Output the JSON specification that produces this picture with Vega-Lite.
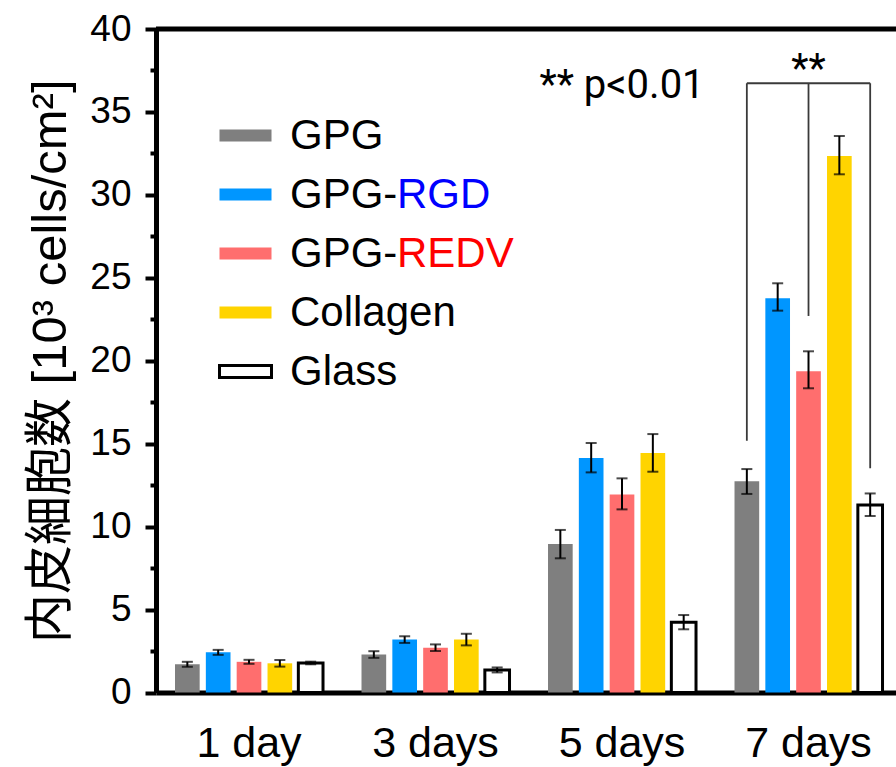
{
  "$schema": "https://vega.github.io/schema/vega-lite/v6.json",
  "autosize": "none",
  "width": 740,
  "height": 663.5,
  "padding": {"left": 156, "top": 29, "right": 0, "bottom": 74.5},
  "background": "white",
  "config": {"view": {"stroke": null}, "font": "Liberation Sans"},
  "datasets": {
    "bars": [
      {"day": "1 day", "group": "GPG", "mean": 1.7, "lo": 1.55, "hi": 1.85},
      {"day": "1 day", "group": "GPG-RGD", "mean": 2.42, "lo": 2.27, "hi": 2.57},
      {"day": "1 day", "group": "GPG-REDV", "mean": 1.85, "lo": 1.73, "hi": 1.97},
      {"day": "1 day", "group": "Collagen", "mean": 1.76, "lo": 1.56, "hi": 1.96},
      {"day": "1 day", "group": "Glass", "mean": 1.78, "lo": 1.7, "hi": 1.86},
      {"day": "3 days", "group": "GPG", "mean": 2.29, "lo": 2.09, "hi": 2.49},
      {"day": "3 days", "group": "GPG-RGD", "mean": 3.19, "lo": 2.99, "hi": 3.39},
      {"day": "3 days", "group": "GPG-REDV", "mean": 2.7, "lo": 2.5, "hi": 2.9},
      {"day": "3 days", "group": "Collagen", "mean": 3.19, "lo": 2.84, "hi": 3.54},
      {"day": "3 days", "group": "Glass", "mean": 1.36, "lo": 1.21, "hi": 1.51},
      {"day": "5 days", "group": "GPG", "mean": 8.95, "lo": 8.09, "hi": 9.8},
      {"day": "5 days", "group": "GPG-RGD", "mean": 14.14, "lo": 13.27, "hi": 15.04},
      {"day": "5 days", "group": "GPG-REDV", "mean": 11.93, "lo": 11.04, "hi": 12.91},
      {"day": "5 days", "group": "Collagen", "mean": 14.44, "lo": 13.31, "hi": 15.58},
      {"day": "5 days", "group": "Glass", "mean": 4.24, "lo": 3.81, "hi": 4.67},
      {"day": "7 days", "group": "GPG", "mean": 12.73, "lo": 11.97, "hi": 13.47},
      {"day": "7 days", "group": "GPG-RGD", "mean": 23.77, "lo": 23.02, "hi": 24.67},
      {"day": "7 days", "group": "GPG-REDV", "mean": 19.36, "lo": 18.34, "hi": 20.57},
      {"day": "7 days", "group": "Collagen", "mean": 32.34, "lo": 31.24, "hi": 33.55},
      {"day": "7 days", "group": "Glass", "mean": 11.3, "lo": 10.64, "hi": 12.0}
    ],
    "bracket": [
      {"day": "7 days", "group": "GPG", "y1": 15.18, "y2": 36.73},
      {"day": "7 days", "group": "GPG-REDV", "y1": 22.7, "y2": 36.73},
      {"day": "7 days", "group": "Glass", "y1": 13.52, "y2": 36.73}
    ],
    "bracketTop": [
      {"day": "7 days", "group": "GPG", "y": 36.73},
      {"day": "7 days", "group": "Glass", "y": 36.73}
    ]
  },
  "layer": [
    {
      "data": {"name": "bars"},
      "mark": {"type": "bar", "strokeWidth": 3},
      "encoding": {
        "x": {
          "field": "day", "type": "nominal", "title": null,
          "scale": {"domain": ["1 day", "3 days", "5 days", "7 days"], "paddingInner": 0.2064, "paddingOuter": 0.0871, "align": 0.585},
          "axis": {"ticks": false, "tickSize": 0, "labelFontSize": 43, "labelFont": "Liberation Sans", "labelColor": "black", "labelPadding": 30, "domainColor": "black", "domainWidth": 5, "labelAngle": 0, "title": null}
        },
        "xOffset": {
          "field": "group", "type": "nominal",
          "scale": {"domain": ["GPG", "GPG-RGD", "GPG-REDV", "Collagen", "Glass"], "paddingInner": 0.2, "paddingOuter": 0}
        },
        "y": {
          "field": "mean", "type": "quantitative",
          "scale": {"domain": [0, 40], "nice": false, "zero": true},
          "axis": {
            "values": [0, 2.5, 5, 7.5, 10, 12.5, 15, 17.5, 20, 22.5, 25, 27.5, 30, 32.5, 35, 37.5, 40],
            "labelExpr": "datum.value % 5 === 0 ? datum.label : ''",
            "tickSize": {"condition": {"test": "datum.value % 5 !== 0", "value": 6}, "value": 11},
            "tickWidth": 4, "tickColor": "black", "domainColor": "black", "domainWidth": 5,
            "labelFontSize": 37, "labelColor": "black", "labelFont": "Liberation Sans", "labelPadding": 14,
            "labelOverlap": false, "labelFlush": false, "grid": false,
            "title": "内皮細胞数 [10³ cells/cm²]", "titleFontSize": 49, "titleFont": "Liberation Sans, Noto Sans CJK JP",
            "titleFontWeight": "normal", "titleColor": "black", "titlePadding": 14
          }
        },
        "fill": {
          "field": "group", "type": "nominal",
          "scale": {"domain": ["GPG", "GPG-RGD", "GPG-REDV", "Collagen", "Glass"], "range": ["#7F7F7F", "#0096FF", "#FF6E6E", "#FFD400", "#FFFFFF"]},
          "legend": {
            "orient": "none", "legendX": 62, "legendY": 79, "title": null, "padding": 0, "clipHeight": 55,
            "symbolType": "M-1,-0.23H1V0.23H-1Z", "symbolSize": 2704, "symbolStrokeWidth": 3,
            "labelFontSize": 42, "labelFont": "Liberation Sans", "labelColor": "black", "labelOffset": 17, "rowPadding": 4, "labelLimit": 400,
            "labelExpr": "datum.value == 'GPG-RGD' || datum.value == 'GPG-REDV' ? 'GPG-' : datum.label"
          }
        },
        "stroke": {
          "field": "group", "type": "nominal",
          "scale": {"domain": ["GPG", "GPG-RGD", "GPG-REDV", "Collagen", "Glass"], "range": ["transparent", "transparent", "transparent", "transparent", "#000000"]},
          "legend": {
            "orient": "none", "legendX": 62, "legendY": 79, "title": null, "padding": 0, "clipHeight": 55,
            "symbolType": "M-1,-0.23H1V0.23H-1Z", "symbolSize": 2704, "symbolStrokeWidth": 3,
            "labelFontSize": 42, "labelFont": "Liberation Sans", "labelColor": "black", "labelOffset": 17, "rowPadding": 4, "labelLimit": 400,
            "labelExpr": "datum.value == 'GPG-RGD' || datum.value == 'GPG-REDV' ? 'GPG-' : datum.label"
          }
        }
      }
    },
    {
      "data": {"name": "bars"},
      "mark": {"type": "point", "opacity": 0},
      "encoding": {
        "x": {"field": "day", "type": "nominal", "title": null},
        "xOffset": {"field": "group", "type": "nominal"},
        "y": {"field": "mean", "type": "quantitative"},
        "shape": {
          "field": "group", "type": "nominal",
          "sort": ["GPG", "GPG-RGD", "GPG-REDV", "Collagen", "Glass"],
          "legend": {
            "orient": "none", "legendX": 169, "legendY": 79, "title": null, "padding": 0, "clipHeight": 55,
            "symbolType": "M-1,-0.23H1V0.23H-1Z", "symbolSize": 2704, "symbolStrokeWidth": 3, "symbolOpacity": 0,
            "labelFontSize": 42, "labelFont": "Liberation Sans", "labelOffset": 17, "rowPadding": 4, "labelLimit": 400,
            "labelColor": {"expr": "datum.value == 'GPG-RGD' ? '#0000FF' : '#FF0000'"},
            "labelExpr": "datum.value == 'GPG-RGD' ? 'RGD' : datum.value == 'GPG-REDV' ? 'REDV' : ''"
          }
        }
      }
    },
    {
      "data": {"name": "bars"},
      "mark": {"type": "rule", "color": "#000000", "strokeWidth": 2},
      "encoding": {
        "x": {"field": "day", "type": "nominal", "title": null},
        "xOffset": {"field": "group", "type": "nominal"},
        "y": {"field": "lo", "type": "quantitative"},
        "y2": {"field": "hi"}
      }
    },
    {
      "data": {"name": "bars"},
      "mark": {"type": "tick", "orient": "horizontal", "color": "#000000", "thickness": 2, "size": 11},
      "encoding": {
        "x": {"field": "day", "type": "nominal", "title": null},
        "xOffset": {"field": "group", "type": "nominal"},
        "y": {"field": "lo", "type": "quantitative"}
      }
    },
    {
      "data": {"name": "bars"},
      "mark": {"type": "tick", "orient": "horizontal", "color": "#000000", "thickness": 2, "size": 11},
      "encoding": {
        "x": {"field": "day", "type": "nominal", "title": null},
        "xOffset": {"field": "group", "type": "nominal"},
        "y": {"field": "hi", "type": "quantitative"}
      }
    },
    {
      "data": {"name": "bracket"},
      "mark": {"type": "rule", "color": "#3A3A3A", "strokeWidth": 1.8},
      "encoding": {
        "x": {"field": "day", "type": "nominal", "title": null},
        "xOffset": {"field": "group", "type": "nominal"},
        "y": {"field": "y1", "type": "quantitative"},
        "y2": {"field": "y2"}
      }
    },
    {
      "data": {"name": "bracketTop"},
      "mark": {"type": "line", "color": "#3A3A3A", "strokeWidth": 1.8},
      "encoding": {
        "x": {"field": "day", "type": "nominal", "title": null},
        "xOffset": {"field": "group", "type": "nominal"},
        "y": {"field": "y", "type": "quantitative"}
      }
    },
    {
      "data": {"values": [{}]},
      "mark": {"type": "rule", "color": "#000000", "strokeWidth": 5},
      "encoding": {"y": {"datum": 40, "type": "quantitative"}}
    },
    {
      "data": {"values": [{}]},
      "mark": {"type": "text", "text": "** p<0.01", "font": "Roboto", "fontSize": 40, "color": "#000000", "align": "center", "baseline": "alphabetic"},
      "encoding": {
        "x": {"datum": "5 days", "type": "nominal"},
        "y": {"datum": 35.82, "type": "quantitative"}
      }
    },
    {
      "data": {"values": [{}]},
      "mark": {"type": "text", "text": "**", "font": "Roboto", "fontSize": 40, "color": "#000000", "align": "center", "baseline": "alphabetic"},
      "encoding": {
        "x": {"datum": "7 days", "type": "nominal"},
        "xOffset": {"datum": "GPG-REDV", "type": "nominal"},
        "y": {"datum": 36.8, "type": "quantitative"}
      }
    }
  ]
}
